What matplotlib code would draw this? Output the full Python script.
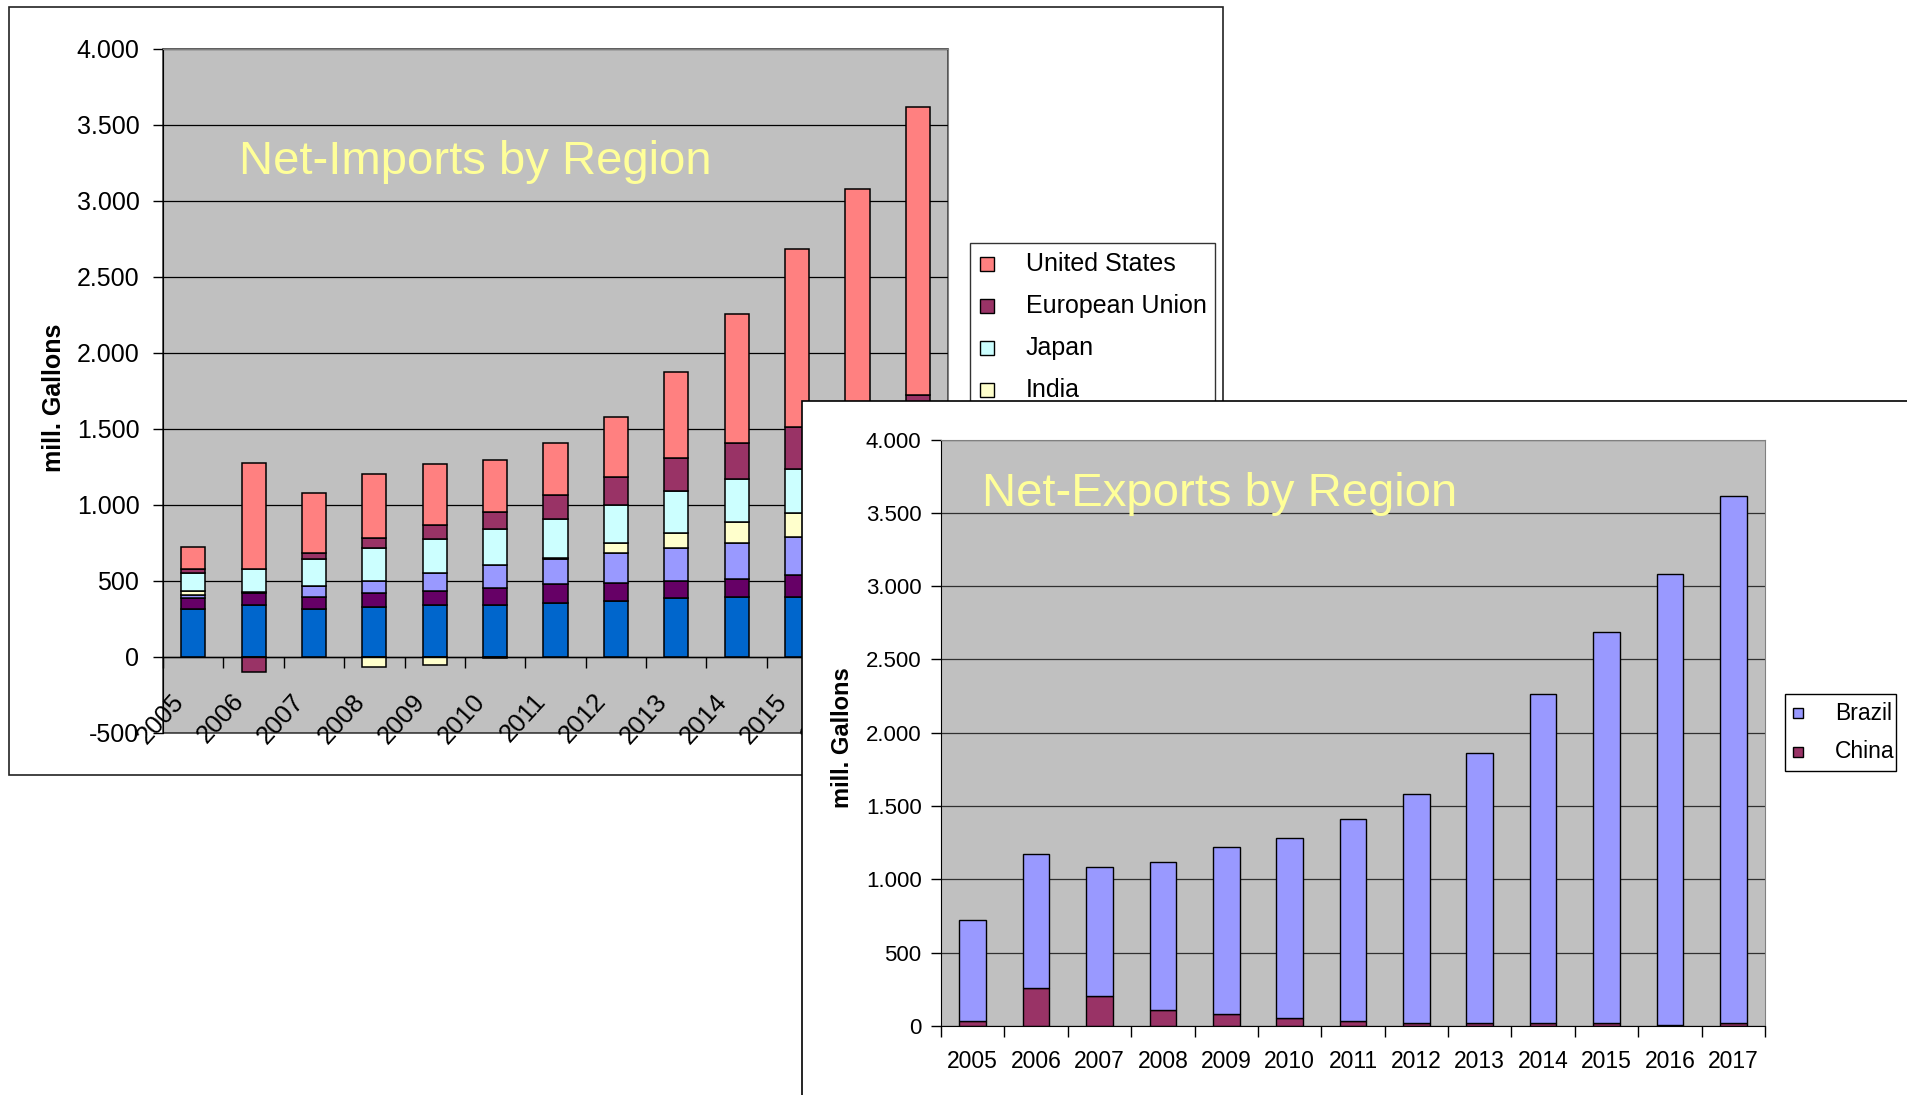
import numpy as np
import matplotlib
matplotlib.use("Agg")
import matplotlib.pyplot as plt
from matplotlib.patches import Rectangle
from matplotlib.ticker import FuncFormatter, FixedLocator

plt.rcParams['font.family'] = ['Liberation Sans', 'DejaVu Sans']

years = [str(y) for y in range(2005, 2018)]

# ---- Net imports (mill. gallons), stacked from bottom to top ----
imp_series5 = [311, 340, 311, 327, 340, 340, 355, 366, 382, 393, 393, 398, 405]   # legend entry hidden
imp_series6 = [71, 77, 79, 94, 92, 110, 119, 121, 116, 120, 146, 150, 155]        # legend entry hidden
imp_series7 = [26, 5, 73, 75, 118, 155, 171, 197, 213, 237, 248, 265, 300]        # legend entry hidden
imp_india = [24, 0, 0, -66, -53, -8, 5, 66, 105, 132, 160, 170, 190]
imp_japan = [116, 153, 180, 215, 224, 237, 258, 248, 274, 285, 285, 300, 340]
imp_eu = [31, -101, 41, 67, 94, 108, 156, 186, 215, 237, 281, 290, 332]
imp_us = [145, 701, 395, 422, 397, 342, 344, 395, 568, 848, 1171, 1506, 1894]

imp_legend_labels = ["United States", "European Union", "Japan", "India"]

# ---- Net exports (mill. gallons) ----
exp_china = [34, 258, 208, 110, 84, 57, 34, 21, 20, 20, 20, 8, 20]
exp_brazil = [687, 913, 876, 1011, 1137, 1226, 1375, 1559, 1845, 2242, 2665, 3077, 3595]
exp_legend_labels = ["Brazil", "China"]

C_BLUE = '#0066CC'
C_DKPUR = '#660066'
C_MDPUR = '#9999FF'
C_YEL = '#FFFFCC'
C_CYAN = '#CCFFFF'
C_PLUM = '#993366'
C_SALMON = '#FF8080'
BG = '#C0C0C0'
TITLE_C = '#FFFF99'

W, H = 1908, 1095
fig = plt.figure(figsize=(W / 100, H / 100), dpi=100)
fig.patch.set_facecolor('white')


def fx(px):
    return px / W


def fy(py):
    return 1 - py / H


def thousands(v, pos=None):
    return f"{v:,.0f}".replace(",", ".")


# ================= Left panel: Net imports =================
fig.add_artist(Rectangle((fx(9.5), fy(775)), fx(1223) - fx(9.5), (775 - 7) / H,
                         transform=fig.transFigure, fill=False, edgecolor='#222222',
                         lw=1.2, zorder=-1))

ax1 = fig.add_axes([fx(163), fy(732.5), (948 - 163) / W, (732.5 - 48.7) / H])
ax1.set_zorder(0)
ax1.set_facecolor(BG)
x = np.arange(len(years))
stack = [imp_series5, imp_series6, imp_series7, imp_india, imp_japan, imp_eu, imp_us]
colors = [C_BLUE, C_DKPUR, C_MDPUR, C_YEL, C_CYAN, C_PLUM, C_SALMON]
pos = np.zeros(len(years))
neg = np.zeros(len(years))
for vals, c in zip(stack, colors):
    v = np.array(vals, dtype=float)
    bottom = np.where(v >= 0, pos, neg)
    ax1.bar(x, v, width=0.4, bottom=bottom, color=c, edgecolor='black', linewidth=1.1, zorder=2)
    pos += np.where(v > 0, v, 0)
    neg += np.where(v < 0, v, 0)

ax1.set_xlim(-0.5, len(years) - 0.5)
ax1.set_ylim(-500, 4000)
ax1.set_yticks(np.arange(-500, 4001, 500))
ax1.yaxis.set_major_formatter(FuncFormatter(thousands))
ax1.yaxis.grid(True, color='black', linewidth=0.9)
ax1.set_axisbelow(True)
ax1.tick_params(axis='y', direction='out', length=7, width=1, pad=10, labelsize=18)
for s in ['top', 'right']:
    ax1.spines[s].set_color('#808080')
ax1.spines['left'].set_color('black')
ax1.spines['bottom'].set_position(('data', 0))
ax1.spines['bottom'].set_color('black')
ax1.spines['bottom'].set_linewidth(1.0)
ax1.add_patch(Rectangle((0, 0), 1, 1, transform=ax1.transAxes, fill=False,
                        edgecolor='#404040', lw=1.2, clip_on=False, zorder=0.5))
ax1.set_xticks(np.arange(-0.5, len(years), 1.0))
ax1.tick_params(axis='x', direction='out', length=8, width=1, labelbottom=False)
for i, yr in enumerate(years):
    ax1.text(i - 0.08, -215, yr, rotation=48, ha='right', va='top', fontsize=18.5,
             clip_on=False, zorder=3)

fig.text(fx(239), fy(174), "Net-Imports by Region", fontsize=34, color=TITLE_C,
         va='baseline', ha='left', zorder=0.5)
fig.text(fx(54), fy(398), "mill. Gallons", rotation=90, fontsize=18, fontweight='bold',
         ha='center', va='center', zorder=0.5)

# left legend (bottom part hidden by the right panel)
fig.add_artist(Rectangle((fx(970), fy(600)), (1215 - 970) / W, (600 - 243) / H,
                         transform=fig.transFigure, fill=False, edgecolor='#333333',
                         lw=1.0, zorder=0.5))
leg_cols = [C_SALMON, C_PLUM, C_CYAN, C_YEL]
leg_rows = [264, 306, 348, 390]
for lab, c, yy in zip(imp_legend_labels, leg_cols, leg_rows):
    fig.add_artist(Rectangle((fx(980), fy(yy + 7)), 14 / W, 14 / H, transform=fig.transFigure,
                             facecolor=c, edgecolor='black', lw=1.0, zorder=0.6))
    fig.text(fx(1026), fy(yy), lab, fontsize=18, va='center', ha='left', zorder=0.6)

# ================= Right panel: Net exports =================
fig.add_artist(Rectangle((fx(802), -0.02), 1.0, (1095 - 401) / H + 0.02,
                         transform=fig.transFigure, facecolor='white', edgecolor='black',
                         lw=1.2, zorder=1))

ax2 = fig.add_axes([fx(941), fy(1026), (1765 - 941) / W, (1026 - 439.5) / H])
ax2.set_zorder(2)
ax2.set_facecolor(BG)
ax2.bar(x, exp_china, width=0.42, color=C_PLUM, edgecolor='black', linewidth=1.0, zorder=2)
ax2.bar(x, exp_brazil, width=0.42, bottom=exp_china, color=C_MDPUR, edgecolor='black',
        linewidth=1.0, zorder=2)
ax2.set_xlim(-0.5, len(years) - 0.5)
ax2.set_ylim(0, 4000)
ax2.set_yticks(np.arange(0, 4001, 500))
ax2.yaxis.set_major_formatter(FuncFormatter(thousands))
ax2.yaxis.grid(True, color='#303030', linewidth=0.9)
ax2.set_axisbelow(True)
ax2.tick_params(axis='y', direction='out', length=7, width=1, pad=7, labelsize=16)
ax2.set_xticks(x)
ax2.set_xticklabels(years)
ax2.xaxis.set_minor_locator(FixedLocator(np.arange(-0.5, len(years), 1.0)))
ax2.tick_params(axis='x', which='major', length=0, pad=17, labelsize=16.5)
ax2.tick_params(axis='x', which='minor', direction='out', length=8, width=1)
for s in ['top', 'right']:
    ax2.spines[s].set_color('#808080')
for s in ['left', 'bottom']:
    ax2.spines[s].set_color('black')

fig.text(fx(982), fy(506), "Net-Exports by Region", fontsize=34, color=TITLE_C,
         va='baseline', ha='left', zorder=4)
fig.text(fx(843), fy(738), "mill. Gallons", rotation=90, fontsize=17, fontweight='bold',
         ha='center', va='center', zorder=4)

# right legend
fig.add_artist(Rectangle((fx(1785), fy(771)), (1896 - 1785) / W, (771 - 694) / H,
                         transform=fig.transFigure, facecolor='white', edgecolor='black',
                         lw=1.0, zorder=3))
for lab, c, yy in zip(exp_legend_labels, [C_MDPUR, C_PLUM], [713, 752]):
    fig.add_artist(Rectangle((fx(1793), fy(yy + 5)), 10 / W, 10 / H, transform=fig.transFigure,
                             facecolor=c, edgecolor='black', lw=1.0, zorder=4))
    fig.text(fx(1835), fy(yy), lab, fontsize=16.5, va='center', ha='left', zorder=4)

fig.savefig("out.png", dpi=100)
